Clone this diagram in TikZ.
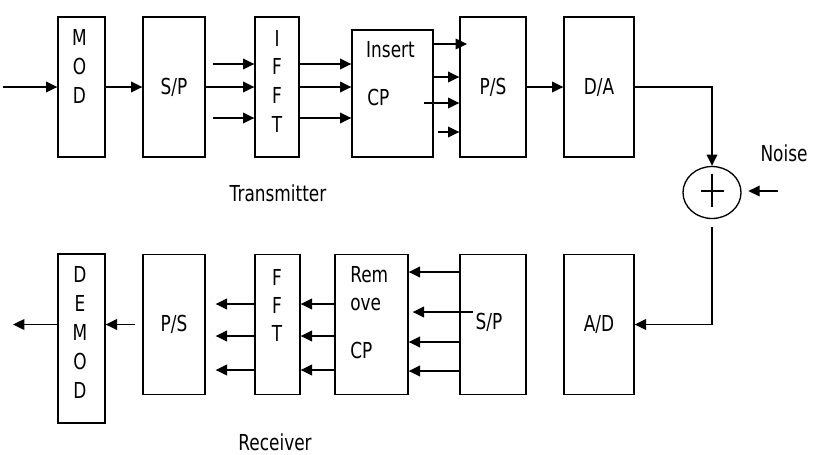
\documentclass[tikz,border=0pt]{standalone}
\usepackage{fontspec}
\setmainfont{DejaVu Sans}[FakeStretch=0.77]
\usetikzlibrary{arrows.meta,shapes.geometric}
\tikzset{
  blk/.style={draw, line width=1pt, inner sep=0pt, minimum height=105pt},
  lbl/.style={inner sep=0pt},
  arr/.style={draw, line width=1pt, -{Triangle[length=8.5pt,width=8pt]}},
}
\begin{document}
\begin{tikzpicture}[x=0.75pt,y=-0.75pt,font=\fontsize{16.5pt}{22pt}\selectfont]
\useasboundingbox (0,0) rectangle (820,454);
% transmitter
\node[blk, minimum width=35.25pt] (mod) at (81.5,87) {};
\node[blk, minimum width=46.5pt] (sp1) at (174,87) {S/P};
\node[blk, minimum width=33pt] (ifft) at (277,87) {};
\node[blk, minimum width=60.75pt, minimum height=95.25pt] (icp) at (392.5,93.5) {};
\node[blk, minimum width=49.5pt] (ps1) at (493,87) {P/S};
\node[blk, minimum width=52.5pt] (da) at (599,87) {D/A};
\node[lbl, align=center, font=\fontsize{16.5pt}{22pt}\selectfont] (modt) at (79.5,66.5) {M\\O\\D};
\node[lbl, align=center, font=\fontsize{16.5pt}{21.5pt}\selectfont] (ifftt) at (277,81) {I\\F\\F\\T};
\node[lbl] (inst) at (390.5,50) {Insert};
\node[lbl, anchor=west] (icpt) at (367,97) {CP};
\node[draw, ellipse, line width=1pt, inner sep=0pt, minimum width=43.5pt, minimum height=39pt] (add) at (712,192.5) {};
\draw[line width=1pt] (add.center) ++(-11,-1.5) -- ++(23,0);
\draw[line width=1pt] (add.center) ++(0,-19) -- ++(0,33);
\node[lbl] (noise) at (784,153) {Noise};
\node[lbl] (tx) at (278,193) {Transmitter};
% receiver
\node[blk, minimum width=35.25pt, minimum height=126.75pt] (demod) at (81.5,338.5) {};
\node[blk, minimum width=46.5pt] (ps2) at (174,324.5) {P/S};
\node[blk, minimum width=33.75pt] (fft) at (277.5,324.5) {};
\node[blk, minimum width=54.75pt] (rcp) at (371.5,324.5) {};
\node[blk, minimum width=49.5pt] (sp2) at (493,324.5) {};
\node[blk, minimum width=52.5pt] (ad) at (599,324.5) {A/D};
\node[lbl, align=center, font=\fontsize{16.5pt}{21.75pt}\selectfont] (demodt) at (80,332.5) {D\\E\\M\\O\\D};
\node[lbl, align=center, font=\fontsize{16.5pt}{21pt}\selectfont] (fftt) at (277,305) {F\\F\\T};
\node[lbl, anchor=west] (remt) at (350,275) {Rem};
\node[lbl, anchor=west] (ovet) at (350,304) {ove};
\node[lbl, anchor=west] (rcpt) at (350,350) {CP};
\node[lbl] (sp2t) at (489,322) {S/P};
\node[lbl] (rx) at (275,442) {Receiver};
% free ends
\coordinate (in) at (3,87);
\coordinate (f1) at (213,64);
\coordinate (f3) at (213,118);
\coordinate (p1) at (467,44);
\coordinate (p2) at (433,77);
\coordinate (p3) at (424,103);
\coordinate (p4) at (438,132);
\coordinate (nz) at (778,191);
\coordinate (q1) at (460,272);
\coordinate (q2) at (473,312);
\coordinate (q3) at (460,342);
\coordinate (q4) at (460,371);
\coordinate (r1) at (335,304);
\coordinate (r2) at (335,336);
\coordinate (r3) at (335,370);
\coordinate (d1) at (135,324.5);
\coordinate (out) at (13,324.5);
% transmitter links
\path[arr] (in) -- (mod);
\path[arr] (mod) -- (sp1);
\path[arr] (sp1) -- (ifft);
\path[arr] (f1) -- (f1 -| ifft.west);
\path[arr] (f3) -- (f3 -| ifft.west);
\path[arr] (ifft.east |- f1) -- (icp.west |- f1);
\path[arr] (ifft.east) -- (ifft.east -| icp.west);
\path[arr] (ifft.east |- f3) -- (icp.west |- f3);
\path[arr] (icp.east |- p1) -- (p1);
\path[arr] (p2) -- (p2 -| ps1.west);
\path[arr] (p3) -- (p3 -| ps1.west);
\path[arr] (p4) -- (p4 -| ps1.west);
\path[arr] (ps1) -- (da);
\path[arr] (da) -| (add);
\path[arr, shorten >=5pt] (nz) -- (nz -| add.east);
\path[arr, shorten <=6pt] (add) |- (ad);
% receiver links
\path[arr] (q1) -- (q1 -| rcp.east);
\path[arr, shorten >=3pt] (q2) -- (q2 -| rcp.east);
\path[arr] (q3) -- (q3 -| rcp.east);
\path[arr] (q4) -- (q4 -| rcp.east);
\path[arr] (r1) -- (r1 -| fft.east);
\path[arr] (r2) -- (r2 -| fft.east);
\path[arr] (r3) -- (r3 -| fft.east);
\path[arr, shorten >=7.5pt] (fft.west |- r1) -- (ps2.east |- r1);
\path[arr, shorten >=7.5pt] (fft.west |- r2) -- (ps2.east |- r2);
\path[arr, shorten >=7.5pt] (fft.west |- r3) -- (ps2.east |- r3);
\path[arr] (d1) -- (d1 -| demod.east);
\path[arr] (demod.west |- out) -- (out);
\end{tikzpicture}
\end{document}
